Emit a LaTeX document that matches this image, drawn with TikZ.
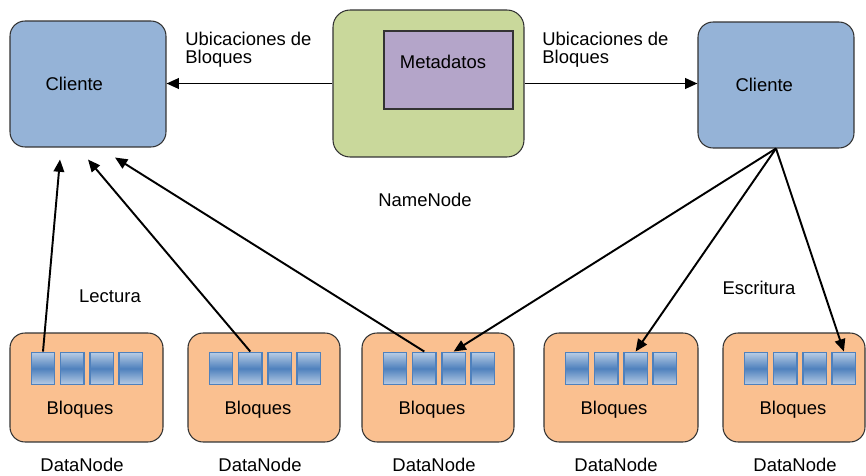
\documentclass[tikz,border=0pt]{standalone}
\usepackage{fontspec}
\setmainfont{Liberation Sans}
\usepackage{tikz}
\usetikzlibrary{arrows.meta, positioning, calc}

\definecolor{clientblue}{HTML}{95B3D7}
\definecolor{nngreen}{HTML}{C9D89B}
\definecolor{metapurple}{HTML}{B4A5C9}
\definecolor{dnorange}{HTML}{FAC090}
\definecolor{blockdark}{HTML}{4F81BD}
\definecolor{blocklight}{HTML}{B9CDE5}
\newcommand\fsz{\fontsize{10.5}{10}\selectfont}

\begin{document}
\begin{tikzpicture}[
    x=0.02cm, y=-0.02cm,
    cli/.style={rectangle, draw=black!80, line width=0.6pt, rounded corners=0.3cm, fill=clientblue, minimum width=3.12cm, minimum height=2.52cm, text width=1.70cm, align=left, font=\fsz},
    nnbox/.style={rectangle, draw=black!80, line width=0.6pt, rounded corners=0.34cm, fill=nngreen, minimum width=3.82cm, minimum height=2.94cm},
    meta/.style={rectangle, draw=black!80, line width=0.6pt, fill=metapurple, minimum width=2.58cm, minimum height=1.56cm},
    dnbox/.style={rectangle, draw=black!80, line width=0.6pt, rounded corners=0.3cm, fill=dnorange, minimum height=2.18cm},
    blk/.style={rectangle, draw=blockdark, line width=0.8pt, inner sep=0pt, minimum width=0.47cm, minimum height=0.65cm, top color=blocklight, bottom color=blocklight, middle color=blockdark},
    txt/.style={inner sep=0pt, font=\fsz},
    arr/.style={-{Triangle[length=7pt, width=6pt]}, line width=1.1pt, black},
]
    \useasboundingbox (0,0) rectangle (866,476);

    % Top row: clients and the NameNode
    \node[cli] (cliL) at (88, 84) {Cliente};
    \node[nnbox] (nn) at (428.5, 83.5) {};
    \node[meta] (meta) at (448.5, 70) {};
    \node[txt] (metatxt) at (443, 62) {Metadatos};
    \node[cli, text width=1.62cm] (cliR) at (776, 85) {Cliente};
    \node[txt] (nnlbl) at (425, 200) {NameNode};

    % Labels on the top arrows
    \node[txt, align=left, anchor=north west] (ubL) at (185, 32) {Ubicaciones de\\Bloques};
    \node[txt, align=left, anchor=north west] (ubR) at (542, 32) {Ubicaciones de\\Bloques};
    \node[txt] (lect) at (110, 296) {Lectura};
    \node[txt] (escr) at (759, 288) {Escritura};

    % Bottom row: DataNodes with their blocks
    \foreach \i/\xl/\w in {1/10/153, 2/188/152, 3/362/152, 4/544/154, 5/723/142} {
        \node[dnbox, minimum width=\w*0.02cm] (dn\i) at (\xl+\w/2, 387.5) {};
        \foreach \j in {1,...,4}
            \node[blk] (b\i\j) at (\xl+33+29.3*\j-29.3, 368.5) {};
        \node[txt] (bq\i) at (\xl+70, 410) {Bloques};
        \node[txt] (dnl\i) at (\xl+72, 465) {DataNode};
    }

    % Arrows from NameNode to clients
    \draw[arr] (nn.west) -- (nn.west -| cliL.east);
    \draw[arr] (nn.east) -- (nn.east -| cliR.west);

    % Reading: blocks to left client
    \draw[arr] (b11.north) -- ([shift={(-28,12)}]cliL.south);
    \draw[arr] (b22.north) -- ([shift={(0,12)}]cliL.south);
    \draw[arr] (b32.north) -- ([shift={(27,10)}]cliL.south);

    % Writing: right client to blocks
    \draw[arr] (cliR.south) -- (b33.north);
    \draw[arr] (cliR.south) -- (b43.north);
    \draw[arr] (cliR.south) -- (b54.north);
\end{tikzpicture}
\end{document}
